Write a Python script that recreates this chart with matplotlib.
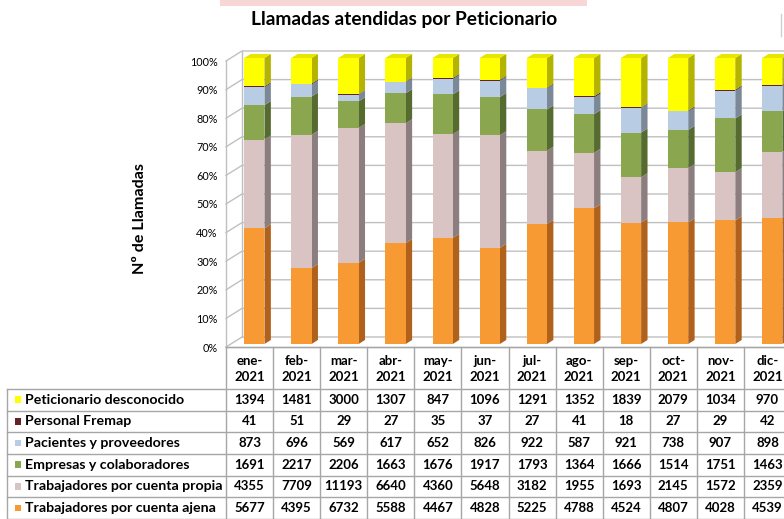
import matplotlib.pyplot as plt
from matplotlib.patches import Polygon, Rectangle
import numpy as np

plt.rcParams['font.family'] = ['Lato', 'DejaVu Sans']

months = ['ene-\n2021', 'feb-\n2021', 'mar-\n2021', 'abr-\n2021', 'may-\n2021', 'jun-\n2021',
          'jul-\n2021', 'ago-\n2021', 'sep-\n2021', 'oct-\n2021', 'nov-\n2021', 'dic-\n2021']

# series, bottom of the stack first
ajena = [5677, 4395, 6732, 5588, 4467, 4828, 5225, 4788, 4524, 4807, 4028, 4539]
propia = [4355, 7709, 11193, 6640, 4360, 5648, 3182, 1955, 1693, 2145, 1572, 2359]
empresas = [1691, 2217, 2206, 1663, 1676, 1917, 1793, 1364, 1666, 1514, 1751, 1463]
pacientes = [873, 696, 569, 617, 652, 826, 922, 587, 921, 738, 907, 898]
fremap = [41, 51, 29, 27, 35, 37, 27, 41, 18, 27, 29, 42]
desconocido = [1394, 1481, 3000, 1307, 847, 1096, 1291, 1352, 1839, 2079, 1034, 970]

names = ['Trabajadores por cuenta ajena', 'Trabajadores por cuenta propia',
         'Empresas y colaboradores', 'Pacientes y proveedores',
         'Personal Fremap', 'Peticionario desconocido']
front = ['#f79a33', '#d9c3c3', '#8aa64e', '#b8cce4', '#632523', '#ffff00']
side = ['#b0621c', '#8c7e7e', '#566b30', '#7a8898', '#3e1514', '#b3b300']
top = ['#e08a2c', '#c4afaf', '#7a9444', '#a5b8cf', '#521e1c', '#e6e600']

series = np.array([ajena, propia, empresas, pacientes, fremap, desconocido], dtype=float)
frac = series / series.sum(axis=0)
cum = np.vstack([np.zeros(len(months)), np.cumsum(frac, axis=0)])

W, H = 784, 519
fig = plt.figure(figsize=(W / 100, H / 100), dpi=100)

def fx(px):
    return px / W

def fy(py):
    return 1 - py / H

# faint pink shape at the very top of the screenshot
fig.patches.append(Rectangle((fx(220), fy(6)), fx(587) - fx(220), 6 / H,
                             transform=fig.transFigure, color='#f9d6d6', lw=0))
fig.lines.append(plt.Line2D([fx(781), fx(781)], [fy(36), fy(14)], transform=fig.transFigure,
                            color='#d0d0d0', lw=1))

fig.text(fx(404), fy(19), 'Llamadas atendidas por Peticionario',
         ha='center', va='center', fontsize=13.8, fontweight='bold')
fig.text(fx(140), fy(218), 'Nº de Llamadas', rotation=90,
         ha='center', va='center', fontsize=11.6, fontweight='bold')

ax = fig.add_axes([fx(226), fy(347), (791 - 226) / W, (347 - 61) / H])
ax.set_xlim(-0.5, 11.5)
ax.set_ylim(0, 1)
for s in ax.spines.values():
    s.set_visible(False)
ax.set_xticks([])
ax.set_yticks(np.linspace(0, 1, 11))
ax.set_yticklabels([f'{int(round(v * 100))}%' for v in np.linspace(0, 1, 11)], fontsize=7.8)
ax.tick_params(axis='y', length=0, pad=6)

# 3d depth offsets in data units
DX, DY = 0.34, 0.035
gcol = '#c0c0c0'
xr = 12.5
for p in np.linspace(0, 1, 11):
    ax.plot([-0.5, -0.5 + DX, xr], [p, p + DY, p + DY], color=gcol, lw=1, clip_on=False, zorder=1)
ax.plot([-0.5, -0.5], [0, 1], color=gcol, lw=1, clip_on=False, zorder=1)
ax.plot([-0.5 + DX, -0.5 + DX], [DY, 1 + DY], color=gcol, lw=1, clip_on=False, zorder=1)
ax.plot([-0.5, xr], [0, 0], color=gcol, lw=1, clip_on=False, zorder=1)

bw = 0.43
d0, dd = 0.3, 0.4
for i in range(len(months)):
    x0 = i - bw / 2 + d0 * DX
    x1 = x0 + bw
    for k in range(len(names)):
        b = cum[k, i] + d0 * DY
        t = cum[k + 1, i] + d0 * DY
        ax.add_patch(Polygon([(x1, b), (x1 + dd * DX, b + dd * DY), (x1 + dd * DX, t + dd * DY), (x1, t)],
                             closed=True, fc=side[k], ec='none', zorder=3, clip_on=False))
        ax.add_patch(Rectangle((x0, b), bw, t - b, fc=front[k], ec='none', zorder=4, clip_on=False))
    t = cum[-1, i] + d0 * DY
    ax.add_patch(Polygon([(x0, t), (x1, t), (x1 + dd * DX, t + dd * DY), (x0 + dd * DX, t + dd * DY)],
                         closed=True, fc=top[-1], ec='none', zorder=4, clip_on=False))

# data table
tab = fig.add_axes([fx(226), 0, (791 - 226) / W, (519.2 - 347) / H])
HDR = 42 / 21.7
tab.set_xlim(-0.5, 11.5)
tab.set_ylim(0, 6 + HDR)
tab.axis('off')
lcol = '#a6a6a6'
xleft = -0.5 + (7 - 226) / 47.08
for r in range(7):
    tab.plot([xleft, 11.5], [r, r], color=lcol, lw=1, clip_on=False)
tab.plot([-0.5, 11.5], [6 + HDR, 6 + HDR], color=lcol, lw=1, clip_on=False)
tab.plot([xleft, xleft], [0, 6], color=lcol, lw=1, clip_on=False)
for k in range(13):
    tab.plot([-0.5 + k, -0.5 + k], [0, 6 + HDR], color=lcol, lw=1, clip_on=False)

for i, m in enumerate(months):
    tab.text(i, 6 + HDR / 2 - 0.06, m, ha='center', va='center', fontsize=9.5,
             fontweight='bold', linespacing=1.4)

sq = 6.5 / 47.08
for r, k in enumerate(range(len(names) - 1, -1, -1)):
    yc = 6 - r - 0.5
    xs = -0.5 + (15 - 226) / 47.08
    tab.add_patch(Rectangle((xs, yc - 0.15), sq, 0.3, fc=front[k], ec='none', clip_on=False))
    tab.text(-0.5 + (25 - 226) / 47.08, yc, names[k], ha='left', va='center',
             fontsize=10.2, fontweight='bold')
    for i in range(len(months)):
        tab.text(i, yc, str(int(series[k, i])), ha='center', va='center',
                 fontsize=9.5, fontweight='bold')

plt.savefig('out.png', dpi=100)
